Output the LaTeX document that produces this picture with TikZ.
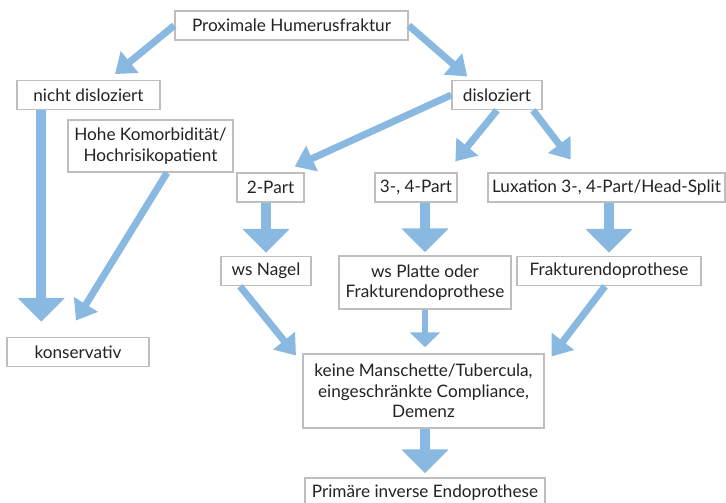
\documentclass[tikz,border=0pt]{standalone}
\usepackage{fontspec}
\setmainfont{Lato}
\usetikzlibrary{arrows.meta}
\definecolor{pfeilblau}{RGB}{137,185,224}
\definecolor{rahmengrau}{RGB}{190,190,190}
\definecolor{textgrau}{RGB}{35,35,35}
\tikzset{
  kasten/.style={draw=rahmengrau, line width=1.5pt, fill=white, text=textgrau,
    align=center, inner sep=1pt, minimum height=29pt,
    font=\fontsize{17.2}{20.5}\selectfont},
  schmal/.style={pfeilblau, line width=7pt, -{Triangle[width=27pt 0,length=19pt 0]}},
  breit/.style={pfeilblau, line width=10pt, -{Triangle[width=46pt 0,length=24pt 0]}},
  mittel/.style={pfeilblau, line width=6pt, -{Triangle[width=30pt 0,length=15pt 0]}}
}
\begin{document}
\begin{tikzpicture}[x=1pt,y=-1pt]
      \useasboundingbox (0,0) rectangle (726,503);
      \draw
        (291.5,25.5) node[kasten,minimum width=233] (prox){Proximale Humerusfraktur}
        (88.5,95) node[kasten,minimum width=143] (nicht){nicht disloziert}
        (497,95) node[kasten,minimum width=90] (disloz){disloziert}
        (150.5,146) node[kasten,minimum width=165,minimum height=52] (hohe){Hohe Komorbidität/\\Hochrisikopatient}
        (270.5,187.5) node[kasten,minimum width=67] (zwei){2-Part}
        (416,187.5) node[kasten,minimum width=82] (drei){3-, 4-Part}
        (606.5,187.5) node[kasten,minimum width=237] (lux){Luxation 3-, 4-Part/Head-Split}
        (266,271) node[kasten,minimum width=90] (nagel){ws Nagel}
        (425,282.5) node[kasten,minimum width=172,minimum height=53] (platte){ws Platte oder\\Frakturendoprothese}
        (609,271) node[kasten,minimum width=184] (frakt){Frakturendoprothese}
        (78,352) node[kasten,minimum width=142] (kons){konservativ}
        (423.5,391) node[kasten,minimum width=241,minimum height=74] (keine){keine Manschette/Tubercula,\\eingeschränkte Compliance,\\Demenz}
        (425,492.5) node[kasten,minimum width=240] (prim){Primäre inverse Endoprothese};
      \begin{scope}[schmal]
        \draw[shorten >=9pt] (prox.west) to ([xshift=19.5pt]nicht.north);
        \draw[shorten >=5pt] (prox.east) to ([xshift=-26pt]disloz.north);
        \draw[shorten >=19pt] ([xshift=16.5pt]hohe.south) to ([xshift=-12pt]kons.north);
        \draw[shorten >=14pt] (disloz.west) to ([xshift=11.5pt]zwei.north);
        \draw[shorten >=14pt] (disloz.south) to ([xshift=30.5pt]drei.north);
        \draw[shorten >=16pt] ([xshift=36pt]disloz.south) to ([xshift=-26pt]lux.north);
        \draw[shorten >=10pt] ([xshift=-26pt]nagel.south) to ([yshift=-10pt]keine.north west);
        \draw[shorten >=11pt] ([xshift=-4pt]frakt.south) to ([yshift=-12pt]keine.north east);
      \end{scope}
      \begin{scope}[breit]
        \draw[shorten >=15pt] ([xshift=25pt]nicht.south west) to ([xshift=35pt]kons.north west);
        \draw[shorten >=3pt] (zwei.south -| nagel.north) to (nagel.north);
        \draw[shorten >=3pt] (drei.south -| platte.north) to (platte.north);
        \draw[shorten >=3pt] (lux.south -| frakt.north) to (frakt.north);
        \draw[shorten >=4pt] (keine.south -| prim.north) to (prim.north);
      \end{scope}
      \draw[mittel,shorten >=6pt] (platte.south) to (platte.south |- keine.north);
    \end{tikzpicture}
\end{document}
